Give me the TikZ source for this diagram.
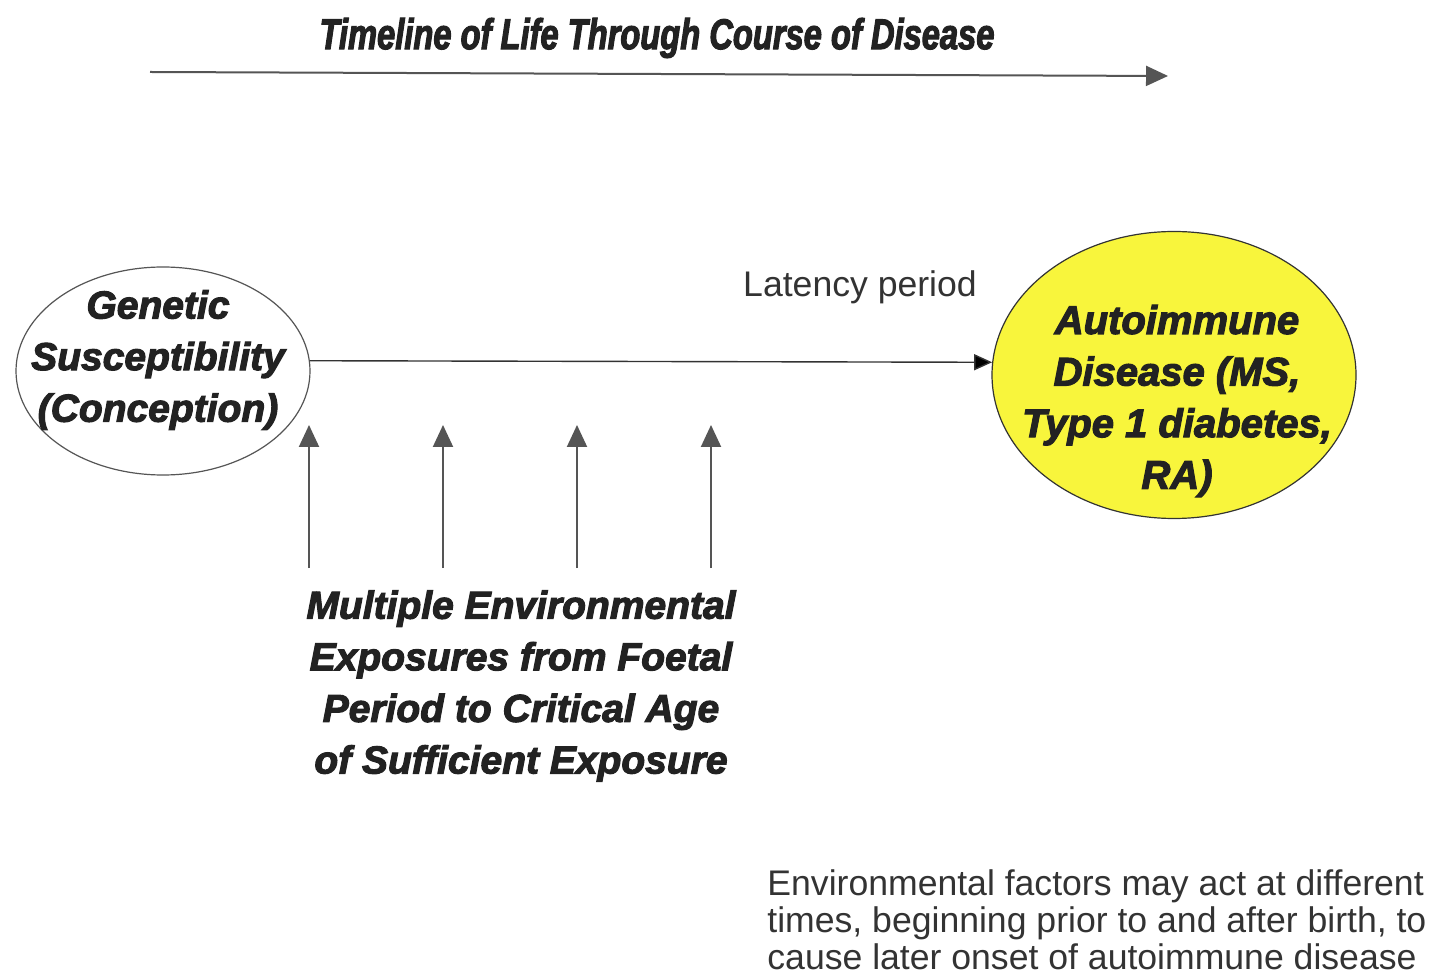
\documentclass[tikz,border=0pt]{standalone}
\usepackage{fontspec}
\setmainfont{Liberation Sans}
\newfontfamily\heavy{Liberation Sans}[BoldItalicFeatures={FakeBold=2.8}]
\newfontfamily\titlef{Liberation Sans}[BoldItalicFeatures={FakeBold=2.5,FakeStretch=0.76}]
\usetikzlibrary{arrows.meta,shapes.geometric}
\definecolor{ink}{HTML}{222222}
\definecolor{txtgray}{HTML}{333333}
\definecolor{arrowgray}{HTML}{555555}
\definecolor{dyellow}{RGB}{248,245,60}
\tikzset{
  heavytext/.style={font=\heavy\bfseries\itshape\fontsize{19.5}{25.8}\selectfont, text=ink, align=center, inner sep=0pt},
  titletext/.style={font=\titlef\bfseries\itshape\fontsize{21.5}{24}\selectfont, text=ink, inner sep=0pt},
  plaintext/.style={font=\fontsize{17.8}{18.6}\selectfont, text=txtgray, inner sep=0pt},
  gArrow/.style={draw=arrowgray, line width=1pt, -{Triangle[length=11pt,width=10pt,fill=arrowgray]}},
  mainArrow/.style={draw=txtgray, line width=0.7pt, -{Triangle[length=9pt,width=8pt,fill=black]}},
  ellipsebox/.style={ellipse, inner sep=0pt, line width=0.6pt},
}
\begin{document}
\begin{tikzpicture}[x=0.5pt,y=-0.5pt]
\useasboundingbox (0,0) rectangle (1438,977);
\fill[white] (0,0) rectangle (1438,977);

% title and timeline
\node[titletext] (title) at (657,38) {Timeline of Life Through Course of Disease};
\coordinate (ts) at (150,72);
\coordinate (te) at (1168,76);
\draw[gArrow] (ts) -- (te);

% ellipses
\node[ellipsebox, draw=arrowgray, fill=white, minimum width=147pt, minimum height=104pt] (L) at (163,371) {};
\node[heavytext] (Ltxt) at (158,360) {Genetic\\Susceptibility\\(Conception)};

\node[ellipsebox, draw=txtgray, fill=dyellow, minimum width=182pt, minimum height=143.5pt] (R) at (1174,375) {};
\node[heavytext, font=\heavy\bfseries\itshape\fontsize{20}{25.8}\selectfont] (Rtxt) at (1177,401) {Autoimmune\\Disease (MS,\\Type 1 diabetes,\\RA)};

\draw[mainArrow] (L.4) -- (R.176);
\node[plaintext] (lat) at (860,287) {Latency period};

% environmental exposures
\node[heavytext] (E) at (521,686) {Multiple Environmental\\Exposures from Foetal\\Period to Critical Age\\of Sufficient Exposure};
\foreach \x [count=\i] in {309,443,577,711}{
  \coordinate (b\i) at (\x,568);
  \coordinate (t\i) at (\x,425);
  \draw[gArrow] (b\i) -- (t\i);
}

% note
\node[plaintext, align=left, anchor=west] (note) at (767,920) {Environmental factors may act at different\\times, beginning prior to and after birth, to\\cause later onset of autoimmune disease};
\end{tikzpicture}
\end{document}
